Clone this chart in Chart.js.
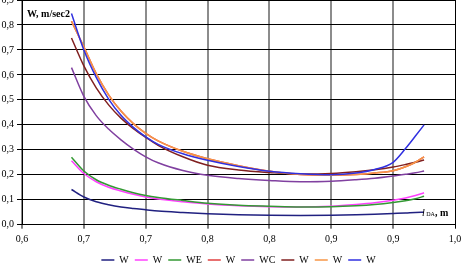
<!DOCTYPE html>
<html><head><meta charset="utf-8">
<script src="https://cdn.jsdelivr.net/npm/chart.js@4"></script>
<style>
html,body{margin:0;padding:0;background:#fff}
#wrap{position:relative;width:461px;height:268px}
.lbl{position:absolute;font-family:"Liberation Serif",serif;font-size:10px;font-weight:bold;color:#000;white-space:nowrap;line-height:12px}
</style></head><body>
<div id="wrap"><canvas id="chart" width="461" height="268"></canvas>
<div class="lbl" style="left:27px;top:8px">W, m/sec2</div>
<div class="lbl" style="left:422px;top:207px"><i style="font-weight:normal">l</i><span style="font-size:6px;font-weight:normal"> DA</span>, m</div>
</div>
<script>
// l_DA, m
const lDA=[0.69,0.70,0.71,0.72,0.73,0.74,0.75,0.76,0.78,0.80,0.825,0.85,0.875,0.90,0.92,0.935,0.95,0.96,0.968,0.975];
const names=['W','W','WE','W','WC','W','W','W'];
const colors=['#202080','#ff40ff','#339933','#e04040','#8040a0','#802020','#f79646','#3030e0'];
const wNavy=[0.141,0.111,0.092,0.080,0.071,0.065,0.060,0.055,0.049,0.044,0.040,0.038,0.037,0.038,0.040,0.042,0.045,0.047,0.049,0.050];
const wMagenta=[0.256,0.205,0.172,0.150,0.135,0.122,0.111,0.103,0.092,0.083,0.076,0.072,0.071,0.074,0.081,0.088,0.098,0.107,0.117,0.128];
const wE=[0.270,0.215,0.180,0.158,0.142,0.128,0.117,0.109,0.097,0.086,0.078,0.074,0.071,0.072,0.076,0.081,0.089,0.096,0.104,0.114];
const wRed=[0.815,0.712,0.605,0.520,0.455,0.405,0.366,0.336,0.294,0.264,0.236,0.214,0.201,0.198,0.201,0.207,0.216,0.232,0.250,0.272];
const wC=[0.629,0.514,0.437,0.383,0.340,0.303,0.272,0.248,0.217,0.198,0.185,0.177,0.172,0.174,0.180,0.186,0.195,0.202,0.208,0.215];
const wBrown=[0.748,0.636,0.548,0.480,0.427,0.385,0.350,0.318,0.272,0.238,0.219,0.209,0.203,0.205,0.212,0.220,0.231,0.241,0.250,0.259];
const wOrange=[0.815,0.712,0.605,0.520,0.455,0.405,0.366,0.336,0.294,0.264,0.236,0.214,0.201,0.198,0.201,0.207,0.216,0.232,0.250,0.272];
const wBlue=[0.846,0.70,0.590,0.503,0.438,0.390,0.352,0.322,0.284,0.258,0.233,0.214,0.204,0.200,0.207,0.221,0.250,0.305,0.355,0.40];
const series=[wNavy,wMagenta,wE,wRed,wC,wBrown,wOrange,wBlue];
const xTicks=['0,6','0,7','0,7','0,8','0,8','0,9','0,9','1,0'];
const yTicks=['0,0','0,1','0,2','0,3','0,4','0,5','0,6','0,7','0,8','0,9'];

const font={family:'"Liberation Serif", serif',size:10};
Chart.defaults.color='#000';
new Chart(document.getElementById('chart'),{
 type:'line',
 data:{datasets:series.map((s,i)=>({
  label:names[i],
  data:s.map((v,j)=>({x:lDA[j],y:v})),
  borderColor:colors[i],backgroundColor:colors[i],
  borderWidth:1.5,pointRadius:0,cubicInterpolationMode:'monotone',
  order:series.length-1-i
 }))},
 options:{
  responsive:false,animation:false,
  layout:{padding:{left:0,right:6,top:0,bottom:0}},
  plugins:{
   tooltip:{enabled:false},
   legend:{position:'bottom',fullSize:false,maxHeight:19,
    labels:{font:font,usePointStyle:true,pointStyle:'line',pointStyleWidth:13,boxHeight:10,padding:6,
     sort:(a,b)=>a.datasetIndex-b.datasetIndex}}
  },
  scales:{
   x:{type:'linear',min:0.65,max:1.0,
    ticks:{stepSize:0.05,font:font,padding:5,maxRotation:0,autoSkip:false,callback:(v,i)=>xTicks[i]},
    grid:{color:c=>c.index===xTicks.length-1?'#000':'#8c8c8c',lineWidth:c=>c.index===xTicks.length-1?1:2,
     tickColor:'#000',tickWidth:1,tickLength:4},
    border:{color:'#000',width:1},
    afterFit:s=>{s.height=24.3;s.paddingLeft=0;s.paddingRight=0;}
   },
   y:{min:0,max:0.9,
    ticks:{stepSize:0.1,font:font,padding:3,callback:(v,i)=>yTicks[i]},
    grid:{color:'#000',lineWidth:1,tickColor:'#000',tickLength:5},
    border:{color:'#000',width:1},
    afterFit:s=>{s.width=22;s.paddingTop=0;s.paddingBottom=0;}
   }
  }
 }
});
</script>
</body></html>
